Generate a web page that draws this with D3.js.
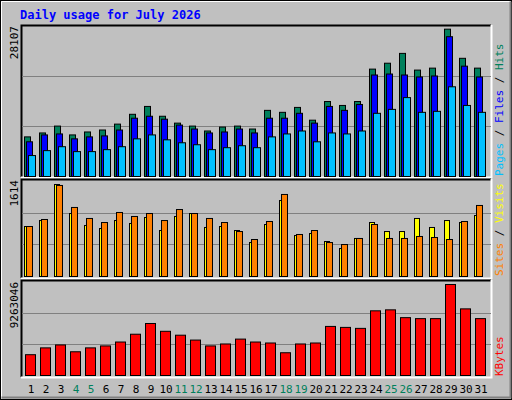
<!DOCTYPE html>
<html><head><meta charset="utf-8">
<script src="https://cdn.jsdelivr.net/npm/d3@7"></script>
<style>body{margin:0;background:#fff}</style></head><body>
<script>
const days = d3.range(1,32);
const weekends = [4,5,11,12,18,19,25,26];
const hits = [7558,8307,9619,7932,8495,8869,9994,11867,13366,11493,10181,9619,8682,9431,9619,9057,12617,12242,13179,10743,14303,13554,14303,20487,21611,23485,20300,20674,28107,22548,20674];
const files = [6621,7932,8120,7183,7558,7745,8869,11118,11493,10931,9806,9057,8307,8495,9057,8307,11118,11118,12055,10181,13366,12617,13741,19363,19550,19363,18988,19175,26670,21049,18988];
const pages = [3997,4934,5684,4747,4747,5122,5684,7183,7932,6996,6433,6059,5122,5496,5871,5496,7558,8120,8682,6621,8307,8120,8682,12055,12804,15053,12242,12430,17114,13554,12242];
const visits = [877,982,1614,1105,895,842,982,930,1035,807,1053,1105,860,877,807,596,912,1333,719,754,614,491,667,947,789,789,1018,860,982,947,1070];
const sites = [877,1000,1597,1211,1018,947,1123,1053,1105,982,1175,1105,1018,947,789,649,965,1439,737,807,596,561,667,912,667,667,702,684,649,965,1246];
const kbytes = [2117248,2811970,3109708,2414986,2811970,3010462,3407446,4201414,5293120,4499152,4102168,3605938,3010462,3208954,3705184,3407446,3308200,2315740,3208954,3308200,4995382,4896136,4796890,6583318,6682564,5888596,5789350,5789350,9263046,6781810,5789350];
const title = "Daily usage for July 2026";
const maxLabels = ["28107","1614","9263046"];

const W=512,H=400, font="'DejaVu Sans Mono', monospace";
const svg=d3.select("body").append("svg").attr("width",W).attr("height",H);
svg.append("rect").attr("width",W).attr("height",H).attr("fill","#C0C0C0");
svg.append("rect").attr("x",0.5).attr("y",0.5).attr("width",W-1).attr("height",H-1).attr("fill","none").attr("stroke","#000");
svg.append("path").attr("d","M1.5,398.5V1.5H510.5").attr("stroke","#fff").attr("fill","none");
svg.append("path").attr("d","M1.5,397.5H510.5V1.5").attr("stroke","#808080").attr("fill","none").attr("stroke-width",2);
svg.append("text").attr("x",20).attr("y",19).attr("font-family",font).attr("font-weight","bold").attr("font-size",12).attr("fill","#0000FF").text(title);

const x = d3.scaleBand().domain(days).range([24,489]).paddingInner(0);
const X0=21,X1=491;
function panel(y0,y1){
  svg.append("rect").attr("x",X0).attr("y",y0).attr("width",X1-X0).attr("height",y1-y0).attr("fill","#C0C0C0");
  svg.append("path").attr("d",`M${X0+0.5},${y1}V${y0+0.5}H${X1}`).attr("stroke","#000").attr("fill","none").attr("stroke-width",2);
  svg.append("path").attr("d",`M${X0},${y1+0.5}H${X1+0.5}V${y0}`).attr("stroke","#fff").attr("fill","none").attr("stroke-width",2);
}
function grid(y,vmax){
  [vmax/3,2*vmax/3].forEach(v=>svg.append("line").attr("x1",X0+1).attr("x2",X1).attr("y1",Math.round(y(v))+0.5).attr("y2",Math.round(y(v))+0.5).attr("stroke","#808080"));
}
function bars(data,y,dx,w,color){
  svg.append("g").selectAll("rect").data(data).join("rect")
    .attr("x",(d,i)=>x(days[i])+dx+0.5).attr("width",w)
    .attr("y",d=>y(d)+0.5).attr("height",d=>y(0)-y(d))
    .attr("fill",color).attr("stroke","#000");
}
function vlabel(xp,yp,parts,anchor){
  const t=svg.append("text").attr("transform",`translate(${xp},${yp}) rotate(-90)`).attr("font-family",font).attr("font-size",11).attr("text-anchor",anchor);
  parts.forEach(p=>t.append("tspan").attr("fill",p[1]).text(p[0]));
}
// top panel
panel(25,177);
const tm=28107*450/442;
const y1=d3.scaleLinear().domain([0,tm]).range([176,26]);
grid(y1,tm);
bars(hits,y1,0,6,"#00805C");
bars(files,y1,2,6,"#0000FF");
bars(pages,y1,4,7,"#00C0FF");
vlabel(18,26,[[maxLabels[0],"#000"]],"end");
vlabel(503,176,[["Pages","#00C0FF"],[" / ","#000"],["Files","#0000FF"],[" / ","#000"],["Hits","#00805C"]],"start");
// middle
panel(179,278);
const vm=1614*285/276;
const y2=d3.scaleLinear().domain([0,vm]).range([276,181]);
grid(y2,vm);
bars(visits,y2,0,5,"#FFFF00");
bars(sites,y2,2,6,"#FF8000");
vlabel(18,180,[[maxLabels[1],"#000"]],"end");
vlabel(503,276,[["Sites","#FF8000"],[" / ","#000"],["Visits","#FFFF00"]],"start");
// bottom
panel(280,377);
const km=9263046*280/274;
const y3=d3.scaleLinear().domain([0,km]).range([375,282]);
grid(y3,km);
bars(kbytes,y3,1,10,"#FF0000");
vlabel(18,282,[[maxLabels[2],"#000"]],"end");
vlabel(503,376,[["KBytes","#FF0000"]],"start");
// day labels
svg.append("g").selectAll("text").data(days).join("text")
  .attr("x",d=>x(d)+7).attr("y",393).attr("text-anchor","middle")
  .attr("font-family",font).attr("font-size",11)
  .attr("fill",d=>weekends.includes(d)?"#00805C":"#000").text(d=>d);
</script></body></html>
